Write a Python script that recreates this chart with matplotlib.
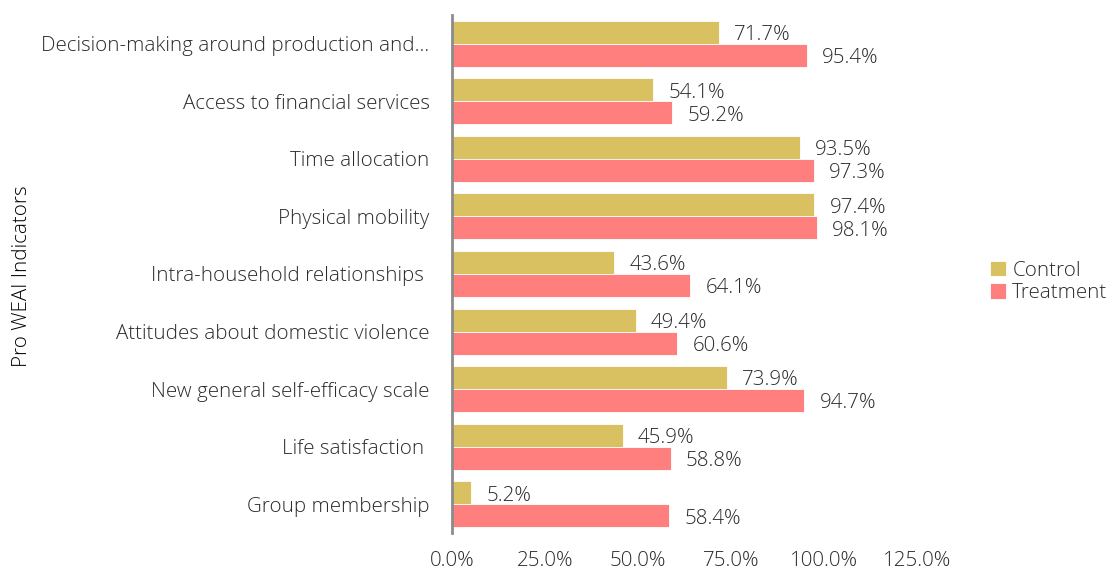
import matplotlib.pyplot as plt
import numpy as np

categories = [
    "Decision-making around production and...",
    "Access to financial services",
    "Time allocation",
    "Physical mobility",
    "Intra-household relationships ",
    "Attitudes about domestic violence",
    "New general self-efficacy scale",
    "Life satisfaction ",
    "Group membership",
]
control = [71.7, 54.1, 93.5, 97.4, 43.6, 49.4, 73.9, 45.9, 5.2]
treatment = [95.4, 59.2, 97.3, 98.1, 64.1, 60.6, 94.7, 58.8, 58.4]
xticks = [0, 25, 50, 75, 100, 125]

plt.rcParams['font.family'] = ['Open Sans', 'DejaVu Sans']
plt.rcParams['font.weight'] = 'light'
txt = '#2b2b2b'
fs = 14.8

fig = plt.figure(figsize=(11.1, 5.75), dpi=100)
ax = fig.add_axes([0.407, 0.073, 0.419, 0.901])

y = np.arange(len(categories))
h = 0.4
b1 = ax.barh(y - h / 2, control, height=h, color='#D9C162', edgecolor='white', linewidth=0.6, label='Control')
b2 = ax.barh(y + h / 2, treatment, height=h, color='#FF7F7F', edgecolor='white', linewidth=0.6, label='Treatment')

for bars, vals in ((b1, control), (b2, treatment)):
    for bar, v in zip(bars, vals):
        ax.annotate(f"{v:.1f}%", (v, bar.get_y() + bar.get_height() / 2),
                    xytext=(11, -2), textcoords='offset points',
                    va='center', ha='left', fontsize=fs, color=txt, fontweight='light')

ax.set_ylim(len(categories) - 0.5, -0.5)
ax.set_xlim(0, 125)
ax.set_yticks(y)
ax.set_yticklabels(categories, fontsize=fs, color=txt, fontweight='light')
ax.set_xticks(xticks)
ax.set_xticklabels([f"{t:.1f}%" for t in xticks], fontsize=fs, color=txt, fontweight='light')
ax.tick_params(axis='y', length=0, pad=16)
ax.tick_params(axis='x', length=0, pad=13)
for s in ('top', 'right', 'bottom'):
    ax.spines[s].set_visible(False)
ax.spines['left'].set_color('#8c8c8c')
ax.spines['left'].set_linewidth(2)

fig.text(0.02, 0.52, "Pro WEAI Indicators", rotation=90, va='center', ha='center',
         fontsize=fs, color='black', fontweight='light')

fig.legend(handles=[b1, b2], loc='center left', bbox_to_anchor=(0.875, 0.51),
           frameon=False, fontsize=fs, handlelength=0.8, handleheight=0.8,
           handletextpad=0.3, labelspacing=0.1, labelcolor=txt,
           prop={'weight': 'light', 'size': fs})

fig.savefig('out.png', dpi=100)
